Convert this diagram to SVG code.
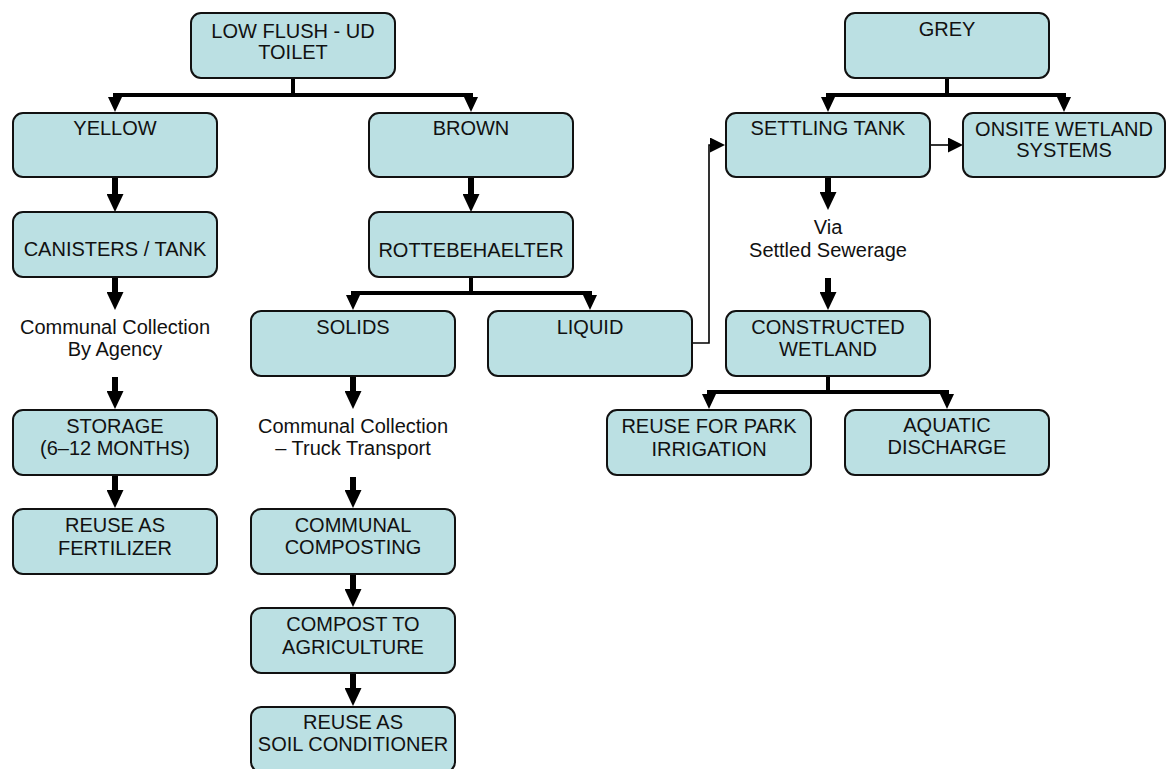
<svg xmlns="http://www.w3.org/2000/svg" width="1167" height="769" viewBox="0 0 1167 769">
<style>
.box{fill:#BBE0E3;stroke:#111;stroke-width:2}
.t{font-family:"Liberation Sans",Arial,Helvetica,sans-serif;font-size:20px;fill:#111;text-anchor:middle}
.big{fill:none;stroke:#000;stroke-width:6;marker-end:url(#mBig)}
.br{fill:none;stroke:#000;stroke-width:4}
.bra{fill:none;stroke:#000;stroke-width:4;marker-end:url(#mMid)}
.thin{fill:none;stroke:#000;stroke-width:1.6;marker-end:url(#mThin)}
</style>
<defs>
<marker id="mBig" markerUnits="userSpaceOnUse" viewBox="0 0 18 17" markerWidth="18" markerHeight="17" refX="6" refY="8.5" orient="auto"><path d="M0,0 L18,8.5 L0,17 z" fill="#000"/></marker>
<marker id="mMid" markerUnits="userSpaceOnUse" viewBox="0 0 15 14" markerWidth="15" markerHeight="14" refX="5" refY="7" orient="auto"><path d="M0,0 L15,7 L0,14 z" fill="#000"/></marker>
<marker id="mThin" markerUnits="userSpaceOnUse" viewBox="0 0 15 15" markerWidth="15" markerHeight="15" refX="5" refY="7.5" orient="auto"><path d="M0,0 L15,7.5 L0,15 z" fill="#000"/></marker>
</defs>
<rect width="1167" height="769" fill="#fff"/>
<g id="connectors">
<path class="br" d="M293,78 V95 M113,95 H473"/>
<path class="bra" d="M115,95 V102"/>
<path class="bra" d="M471,95 V102"/>
<path class="br" d="M471,277 V293 M351,293 H592"/>
<path class="bra" d="M353,293 V300"/>
<path class="bra" d="M590,293 V300"/>
<path class="br" d="M947,78 V95 M826,95 H1066"/>
<path class="bra" d="M828,95 V102"/>
<path class="bra" d="M1064,95 V102"/>
<path class="br" d="M828,376 V392 M707,392 H949"/>
<path class="bra" d="M709,392 V399"/>
<path class="bra" d="M947,392 V399"/>
<path class="big" d="M115,177 V200"/>
<path class="big" d="M115,277 V298"/>
<path class="big" d="M115,377 V397"/>
<path class="big" d="M115,475 V496"/>
<path class="big" d="M471,177 V200"/>
<path class="big" d="M353,376 V397"/>
<path class="big" d="M353,477 V496"/>
<path class="big" d="M353,574 V595"/>
<path class="big" d="M353,673 V694"/>
<path class="big" d="M828,177 V198"/>
<path class="big" d="M828,278 V298"/>
<path class="thin" d="M691,343 H709 V145 H715"/>
<path class="thin" d="M930,145 H953"/>
</g>
<g id="n-lowflush"><rect class="box" x="191" y="13" width="204" height="65" rx="10"/><text class="t" x="293" y="37.5">LOW FLUSH - UD</text><text class="t" x="293" y="59">TOILET</text></g>
<g id="n-yellow"><rect class="box" x="13" y="113" width="204" height="64" rx="10"/><text class="t" x="115" y="135">YELLOW</text></g>
<g id="n-brown"><rect class="box" x="369" y="113" width="204" height="64" rx="10"/><text class="t" x="471" y="135">BROWN</text></g>
<g id="n-canisters"><rect class="box" x="13" y="212" width="204" height="65" rx="10"/><text class="t" x="115" y="256">CANISTERS / TANK</text></g>
<g id="n-rotte"><rect class="box" x="369" y="212" width="204" height="65" rx="10"/><text class="t" x="471" y="257">ROTTEBEHAELTER</text></g>
<g id="l-agency"><text class="t" x="115" y="334">Communal Collection</text><text class="t" x="115" y="356">By Agency</text></g>
<g id="n-solids"><rect class="box" x="251" y="311" width="204" height="65" rx="10"/><text class="t" x="353" y="334">SOLIDS</text></g>
<g id="n-liquid"><rect class="box" x="488" y="311" width="204" height="65" rx="10"/><text class="t" x="590" y="334">LIQUID</text></g>
<g id="n-storage"><rect class="box" x="13" y="410" width="204" height="65" rx="10"/><text class="t" x="115" y="433">STORAGE</text><text class="t" x="115" y="455">(6–12 MONTHS)</text></g>
<g id="l-truck"><text class="t" x="353" y="433">Communal Collection</text><text class="t" x="353" y="455">– Truck Transport</text></g>
<g id="n-fertilizer"><rect class="box" x="13" y="509" width="204" height="65" rx="10"/><text class="t" x="115" y="532">REUSE AS</text><text class="t" x="115" y="555">FERTILIZER</text></g>
<g id="n-composting"><rect class="box" x="251" y="509" width="204" height="65" rx="10"/><text class="t" x="353" y="532">COMMUNAL</text><text class="t" x="353" y="554">COMPOSTING</text></g>
<g id="n-agriculture"><rect class="box" x="251" y="608" width="204" height="65" rx="10"/><text class="t" x="353" y="631">COMPOST TO</text><text class="t" x="353" y="654">AGRICULTURE</text></g>
<g id="n-soil"><rect class="box" x="251" y="707" width="204" height="65" rx="10"/><text class="t" x="353" y="729">REUSE AS</text><text class="t" x="353" y="751">SOIL CONDITIONER</text></g>
<g id="n-grey"><rect class="box" x="845" y="13" width="204" height="65" rx="10"/><text class="t" x="947" y="36">GREY</text></g>
<g id="n-settling"><rect class="box" x="726" y="113" width="204" height="64" rx="10"/><text class="t" x="828" y="135">SETTLING TANK</text></g>
<g id="n-onsite"><rect class="box" x="963" y="113" width="202" height="64" rx="10"/><text class="t" x="1064" y="136">ONSITE WETLAND</text><text class="t" x="1064" y="157">SYSTEMS</text></g>
<g id="l-via"><text class="t" x="828" y="234">Via</text><text class="t" x="828" y="257">Settled Sewerage</text></g>
<g id="n-constructed"><rect class="box" x="726" y="311" width="204" height="65" rx="10"/><text class="t" x="828" y="334">CONSTRUCTED</text><text class="t" x="828" y="356">WETLAND</text></g>
<g id="n-park"><rect class="box" x="607" y="410" width="204" height="65" rx="10"/><text class="t" x="709" y="433">REUSE FOR PARK</text><text class="t" x="709" y="456">IRRIGATION</text></g>
<g id="n-aquatic"><rect class="box" x="845" y="410" width="204" height="65" rx="10"/><text class="t" x="947" y="432">AQUATIC</text><text class="t" x="947" y="454">DISCHARGE</text></g>
</svg>
